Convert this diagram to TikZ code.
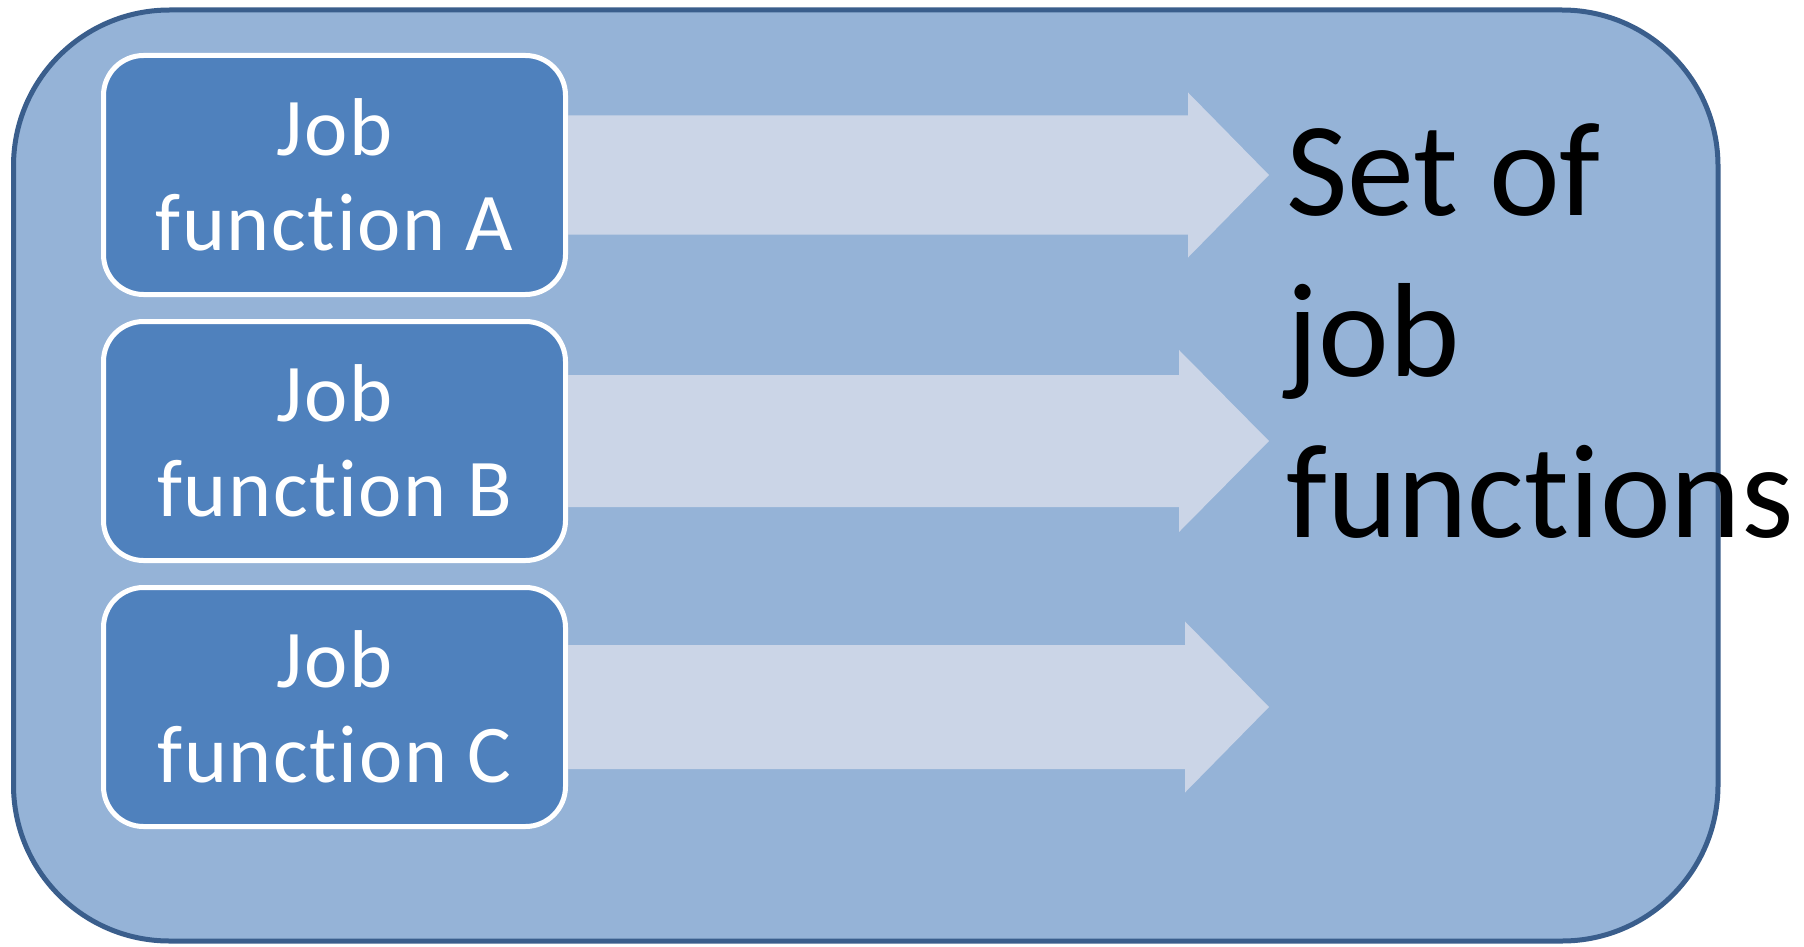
\documentclass[tikz,border=0pt]{standalone}
\usepackage{fontspec}
\setmainfont{Carlito}[Ligatures=NoCommon]
\usetikzlibrary{positioning,calc}
\definecolor{frameblue}{RGB}{149,179,215}
\definecolor{framedraw}{RGB}{58,94,140}
\definecolor{jobblue}{RGB}{79,129,189}
\definecolor{flowpale}{RGB}{203,213,231}
\tikzset{
  job/.style={draw=white,line width=2.5pt,rounded corners=20pt,fill=jobblue,
    text=white,font=\fontsize{41}{47.5}\selectfont\addfontfeatures{LetterSpace=2},
    align=center,minimum width=231pt,minimum height=119.5pt,inner sep=0pt},
  flow/.style={fill=flowpale},
  setlbl/.style={font=\fontsize{67}{80.5}\selectfont,align=left,inner sep=0pt},
}

\begin{document}
\begin{tikzpicture}[x=0.5pt,y=-0.5pt]
  \useasboundingbox (0,0) rectangle (1804,947);
  \draw[framedraw,fill=frameblue,line width=2.5pt,rounded corners=78pt]
    (13.5,10) rectangle (1718,941);
  \node[job] (a) at (334.5,175) {Job\\ function A};
  \node[job,below=11pt of a] (b) {Job\\ function B};
  \node[job,below=11pt of b] (c) {Job\\ function C};
  % arrows out of each job box
  \fill[flow] ($(a.east)+(0,59.5)$) -- ++(620,0) -- ++(0,23) -- ($(a.east)+(701,0)$)
    -- ($(a.east)+(620,-82.5)$) -- ++(0,23) -- ($(a.east)+(0,-59.5)$) -- cycle;
  \fill[flow] ($(b.east)+(0,66)$) -- ++(611,0) -- ++(0,25) -- ($(b.east)+(701,0)$)
    -- ($(b.east)+(611,-91)$) -- ++(0,25) -- ($(b.east)+(0,-66)$) -- cycle;
  \fill[flow] ($(c.east)+(0,62)$) -- ++(617,0) -- ++(0,23.5) -- ($(c.east)+(701,0)$)
    -- ($(c.east)+(617,-85.5)$) -- ++(0,23.5) -- ($(c.east)+(0,-62)$) -- cycle;
  \node[setlbl,anchor=base west] (s) at (1286,537) {Set of\\ job\\ functions};
\end{tikzpicture}
\end{document}
